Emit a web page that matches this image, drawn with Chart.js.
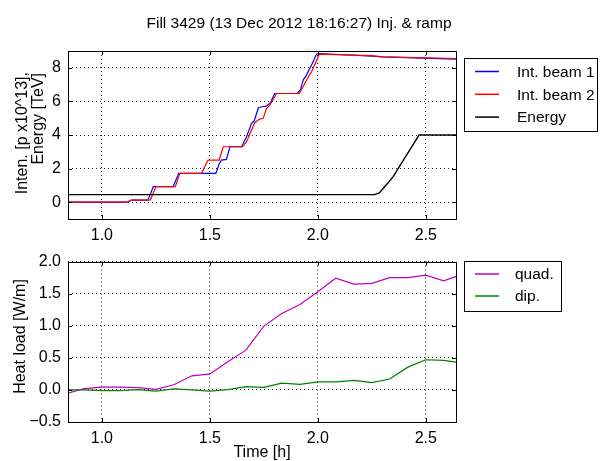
<!DOCTYPE html>
<html>
<head>
<meta charset="utf-8">
<script src="https://cdn.jsdelivr.net/npm/chart.js@4"></script>
<style>
  body { margin: 0; background: #fff; }
  #wrap { position: relative; width: 601px; height: 461px; }
  canvas { position: absolute; left: 0; }
</style>
</head>
<body>
<div id="wrap">
  <canvas id="topChart" width="601" height="245" style="top:0"></canvas>
  <canvas id="hlChart" width="601" height="216" style="top:245px"></canvas>
</div>
<script>
// intensity, beam 1 (time in h, value in 1e13 p)
const beam1Time = [0.80, 1.114, 1.137, 1.21, 1.214, 1.238, 1.33, 1.356, 1.528, 1.543, 1.554, 1.577, 1.593, 1.647,
  1.67, 1.693, 1.705, 1.725, 1.741, 1.762, 1.781, 1.80, 1.904, 1.92, 1.932, 1.948, 1.971, 1.994, 2.003, 2.248, 2.30, 2.65];
const beam1Val = [0, 0, 0.12, 0.12, 0.14, 0.93, 0.93, 1.72, 1.72, 2.28, 2.51, 2.55, 3.3, 3.3,
  3.9, 4.69, 4.83, 5.62, 5.68, 5.72, 5.92, 6.47, 6.47, 6.7, 7.27, 7.58, 8.16, 8.81, 8.85, 8.69, 8.65, 8.51];

// intensity, beam 2
const beam2Time = [0.80, 1.114, 1.137, 1.215, 1.225, 1.25, 1.34, 1.361, 1.461, 1.492, 1.543, 1.562, 1.651,
  1.67, 1.693, 1.708, 1.728, 1.747, 1.762, 1.778, 1.809, 1.914, 1.932, 1.948, 1.971, 1.994, 2.006, 2.248, 2.30, 2.65];
const beam2Val = [0, 0, 0.12, 0.12, 0.14, 0.93, 0.93, 1.72, 1.72, 2.51, 2.51, 3.3, 3.3,
  3.6, 4.3, 4.73, 4.93, 4.99, 5.58, 5.78, 6.47, 6.47, 6.87, 7.27, 7.76, 8.42, 8.81, 8.72, 8.65, 8.55];

// beam energy [TeV]
const energyTime = [0.80, 2.262, 2.285, 2.31, 2.33, 2.349, 2.40, 2.45, 2.469, 2.65];
const energyVal = [0.45, 0.45, 0.55, 0.93, 1.22, 1.52, 2.58, 3.6, 4.0, 4.0];

// heat load, 5 min samples
const hlTime = [0.833, 0.917, 1.0, 1.083, 1.167, 1.25, 1.333, 1.417, 1.5, 1.583, 1.667, 1.75,
  1.833, 1.917, 2.0, 2.083, 2.167, 2.25, 2.333, 2.417, 2.5, 2.583, 2.667];
const quadVal = [-0.06, 0.02, 0.045, 0.045, 0.035, 0.01, 0.08, 0.22, 0.25, 0.44, 0.62, 0.995,
  1.19, 1.33, 1.53, 1.74, 1.65, 1.66, 1.75, 1.75, 1.79, 1.70, 1.80];
const dipVal = [0.0, 0.0, -0.01, -0.01, 0.005, -0.02, 0.015, 0.0, -0.02, 0.005, 0.05, 0.04,
  0.105, 0.085, 0.125, 0.125, 0.15, 0.115, 0.17, 0.355, 0.47, 0.46, 0.42];

const xTicks = [1.0, 1.5, 2.0, 2.5];
const topYTicks = [0, 2, 4, 6, 8];
const hlYTicks = [-0.5, 0, 0.5, 1.0, 1.5, 2.0];

const titleText = 'Fill 3429 (13 Dec 2012 18:16:27) Inj. & ramp';

const FONT = "'Liberation Sans', Arial, sans-serif";
Chart.defaults.font.family = FONT;
Chart.defaults.font.size = 16;
Chart.defaults.color = '#000';

function pts(t, v) {
  return t.map((x, i) => ({ x: x, y: v[i] }));
}

// order: lower number is drawn on top
function line(label, t, v, color, order, width) {
  return { label: label, data: pts(t, v), borderColor: color, backgroundColor: color, order: order,
    borderWidth: width || 1.2, pointRadius: 0, tension: 0, fill: false };
}

function xScale(height, title) {
  return {
    type: 'linear', min: 0.843, max: 2.64,
    afterBuildTicks: s => { s.ticks = xTicks.map(v => ({ value: v })); },
    afterFit: s => { s.height = height; },
    ticks: { callback: v => v.toFixed(1), padding: 7, maxRotation: 0, autoSkip: false },
    grid: { color: '#222', drawTicks: false },
    border: { display: false, dash: [1, 3] },
    title: title ? { display: true, text: title, padding: { top: 0, bottom: -1 } } : { display: false }
  };
}

function yScale(min, max, ticks, fmt) {
  return {
    min: min, max: max,
    afterBuildTicks: s => { s.ticks = ticks.map(v => ({ value: v })); },
    afterFit: s => { s.width = 68; },
    ticks: { callback: fmt, padding: 7 },
    grid: { color: '#222', drawTicks: false },
    border: { display: false, dash: [1, 3] }
  };
}

// frame, inward ticks, legend box, labels
function decor(opts) {
  return {
    id: 'decor',
    afterDraw(chart) {
      const ctx = chart.ctx;
      const a = chart.chartArea;
      const sx = chart.scales.x, sy = chart.scales.y;
      ctx.save();
      ctx.strokeStyle = '#000';
      ctx.lineWidth = 1;
      ctx.beginPath();
      xTicks.forEach(v => {
        const px = Math.round(sx.getPixelForValue(v)) + 0.5;
        ctx.moveTo(px, a.bottom); ctx.lineTo(px, a.bottom - 4);
        ctx.moveTo(px, a.top); ctx.lineTo(px, a.top + 4);
      });
      opts.yTicks.forEach(v => {
        const py = Math.round(sy.getPixelForValue(v)) + 0.5;
        ctx.moveTo(a.left, py); ctx.lineTo(a.left + 4, py);
        ctx.moveTo(a.right, py); ctx.lineTo(a.right - 4, py);
      });
      ctx.stroke();
      ctx.strokeRect(Math.round(a.left) + 0.5, Math.round(a.top) + 0.5,
        Math.round(a.right - a.left), Math.round(a.bottom - a.top));

      ctx.fillStyle = '#000';
      if (opts.title) {
        ctx.font = '15.5px ' + FONT;
        ctx.textAlign = 'center';
        ctx.textBaseline = 'alphabetic';
        ctx.fillText(opts.title, 299, 27.5);
      }
      // rotated y label
      ctx.font = '16px ' + FONT;
      opts.yLabel.forEach(l => {
        ctx.save();
        ctx.translate(l.x, l.y);
        ctx.rotate(-Math.PI / 2);
        ctx.textAlign = l.align;
        ctx.textBaseline = 'alphabetic';
        ctx.fillText(l.text, 0, 0);
        ctx.restore();
      });

      // legend
      const b = opts.legendBox;
      ctx.font = '15.5px ' + FONT;
      ctx.strokeStyle = '#000';
      ctx.strokeRect(b.x + 0.5, b.y + 0.5, b.w, b.h);
      ctx.textAlign = 'left';
      ctx.textBaseline = 'middle';
      chart.data.datasets.forEach((ds, i) => {
        const ry = b.y + b.row0 + i * b.rowH;
        ctx.strokeStyle = ds.borderColor;
        ctx.lineWidth = 1.5;
        ctx.beginPath();
        ctx.moveTo(475, ry); ctx.lineTo(499, ry);
        ctx.stroke();
        ctx.fillText(ds.label, b.textX, ry + 1);
      });
      ctx.restore();
    }
  };
}

new Chart(document.getElementById('topChart'), {
  type: 'line',
  data: {
    datasets: [
      line('Int. beam 1', beam1Time, beam1Val, '#0000ff', 2),
      line('Int. beam 2', beam2Time, beam2Val, '#ff0000', 1),
      line('Energy', energyTime, energyVal, '#000000', 0, 1.4)
    ]
  },
  options: {
    responsive: false, animation: false, devicePixelRatio: 1,
    layout: { padding: { left: 0, right: 145, top: 51, bottom: 0 } },
    plugins: { legend: { display: false }, tooltip: { enabled: false } },
    scales: {
      x: xScale(26),
      y: yScale(-1, 9, topYTicks, v => String(v))
    }
  },
  plugins: [decor({
    title: titleText,
    yTicks: topYTicks,
    yLabel: [
      { text: 'Inten. [p x10^13],', x: 26.5, y: 72, align: 'right' },
      { text: 'Energy [TeV]', x: 43, y: 73, align: 'right' }
    ],
    legendBox: { x: 464, y: 58, w: 133, h: 73, row0: 13.5, rowH: 22.8, textX: 517 }
  })]
});

new Chart(document.getElementById('hlChart'), {
  type: 'line',
  data: {
    datasets: [
      line('quad.', hlTime, quadVal, '#bf00bf', 1),
      line('dip.', hlTime, dipVal, '#008000', 0)
    ]
  },
  options: {
    responsive: false, animation: false, devicePixelRatio: 1,
    layout: { padding: { left: 0, right: 145, top: 8, bottom: 0 } },
    plugins: { legend: { display: false }, tooltip: { enabled: false } },
    scales: {
      x: xScale(39, 'Time [h]'),
      y: yScale(-0.5, 2.0, hlYTicks, v => (v < 0 ? '\u2212' : '') + Math.abs(v).toFixed(1))
    }
  },
  plugins: [decor({
    yTicks: hlYTicks,
    yLabel: [
      { text: 'Heat load [W/m]', x: 25, y: 91.5, align: 'center' }
    ],
    legendBox: { x: 464, y: 16, w: 97, h: 50, row0: 13, rowH: 22, textX: 515 }
  })]
});
</script>
</body>
</html>
